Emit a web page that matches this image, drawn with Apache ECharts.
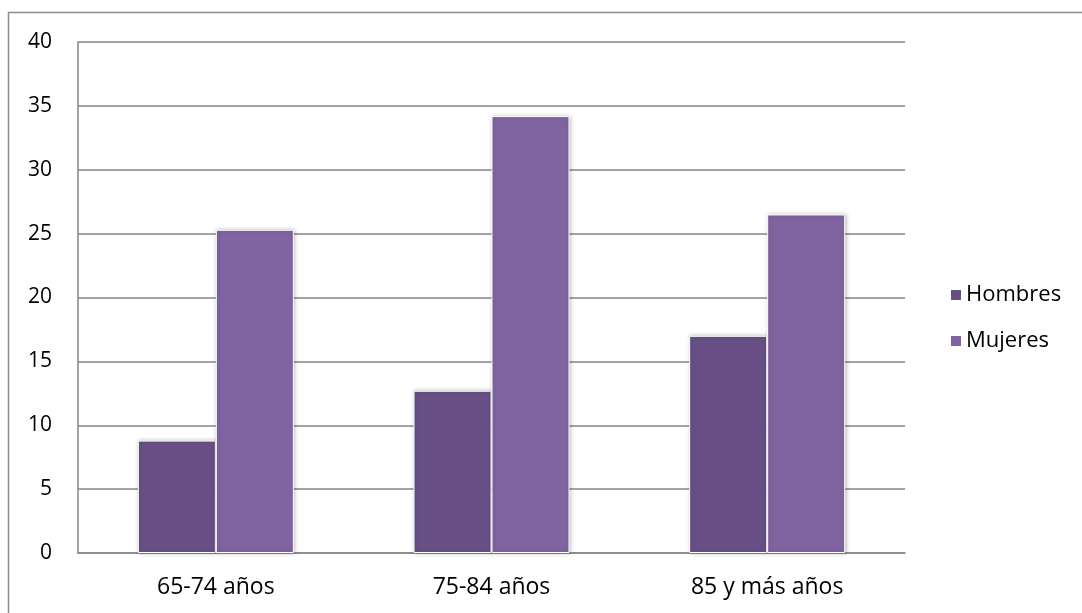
<!DOCTYPE html>
<html>
<head>
<meta charset="utf-8">
<script src="https://cdn.jsdelivr.net/npm/echarts@6/dist/echarts.min.js"></script>
<style>
  html, body { margin: 0; padding: 0; background: #fff; }
  #chart { width: 1082px; height: 613px; }
</style>
</head>
<body>
<div id="chart"></div>
<script>
// Age groups and percentages by sex
var categories = ['65-74 años', '75-84 años', '85 y más años'];
var hombres = [8.8, 12.7, 17.0];
var mujeres = [25.3, 34.2, 26.5];
var seriesNames = ['Hombres', 'Mujeres'];

var FONT = '"Open Sans", sans-serif';
var chart = echarts.init(document.getElementById('chart'), null, { renderer: 'canvas' });

var barStyle = function (color) {
  return {
    color: color,
    borderColor: '#ffffff',
    borderWidth: 1,
    shadowColor: 'rgba(0,0,0,0.25)',
    shadowBlur: 4,
    shadowOffsetX: 1,
    shadowOffsetY: 0
  };
};

chart.setOption({
  animation: false,
  backgroundColor: '#ffffff',
  graphic: [{
    type: 'rect',
    shape: { x: 8.5, y: 12.5, width: 1200, height: 800 },
    style: { fill: 'none', stroke: '#8c8c8c', lineWidth: 1.5 },
    silent: true
  }],
  grid: { left: 78, right: 177, top: 42, bottom: 60 },
  legend: {
    orient: 'vertical',
    left: 944,
    top: 279,
    itemWidth: 12,
    itemHeight: 12,
    itemGap: 24,
    icon: 'rect',
    data: seriesNames,
    textStyle: { fontFamily: FONT, fontSize: 22, color: '#000', padding: [0, 0, 0, -1] }
  },
  xAxis: {
    type: 'category',
    data: categories,
    axisLine: { show: true, lineStyle: { color: '#868686', width: 1.5 } },
    axisTick: { show: false },
    axisLabel: { fontFamily: FONT, fontSize: 23, color: '#000', margin: 23 }
  },
  yAxis: {
    type: 'value',
    min: 0,
    max: 40,
    interval: 5,
    axisLine: { show: true, lineStyle: { color: '#868686', width: 1.5 } },
    axisTick: { show: false },
    splitLine: { show: true, lineStyle: { color: '#868686', width: 1.5 } },
    axisLabel: { fontFamily: FONT, fontSize: 21, color: '#000', margin: 26 }
  },
  series: [
    {
      name: seriesNames[0],
      type: 'bar',
      data: hombres,
      barWidth: 78,
      barGap: '0%',
      itemStyle: barStyle('#685086')
    },
    {
      name: seriesNames[1],
      type: 'bar',
      data: mujeres,
      barWidth: 78,
      itemStyle: barStyle('#8064a2')
    }
  ]
});
</script>
</body>
</html>
